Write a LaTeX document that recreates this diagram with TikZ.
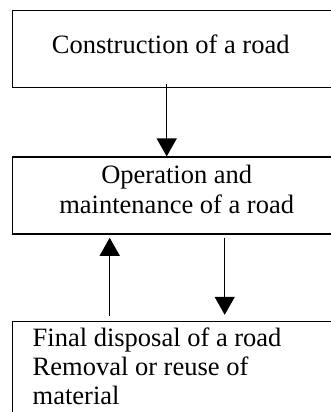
\documentclass[tikz,border=0pt]{standalone}
\usepackage{fontspec}
\setmainfont{Liberation Serif}
\usetikzlibrary{arrows.meta,positioning}

\begin{document}
\begin{tikzpicture}[x=1pt, y=1pt,
  stage/.style={rectangle, draw, line width=1.4pt, minimum width=328pt, inner xsep=0pt,
    font=\fontsize{26.5}{30}\selectfont},
  flow/.style={-{Triangle[width=20pt,length=18pt]}, line width=1.4pt}]
  \useasboundingbox (0,0) rectangle (330,-412);

  \node[stage, anchor=north west, minimum height=77pt, text depth=10pt] (CR) at (12,-10) {Construction of a road\kern12pt};
  \node[stage, below=68pt of CR, minimum height=77pt, align=center, inner ysep=3pt, text depth=12pt] (OM) {Operation and\\maintenance of a road};
  \node[stage, below=86pt of OM, text width=288pt, inner xsep=20pt, inner ysep=6pt, align=flush left,
    font=\fontsize{26.5}{29}\selectfont, text depth=100pt] (FD) {Final disposal of a road\\Removal or reuse of\\material};

  \draw[flow] ([xshift=-10pt, yshift=4pt]CR.south) -- ([xshift=-10pt]OM.north);
  \draw[flow] ([xshift=-67pt, yshift=5pt]FD.north) -- ([xshift=-67pt, yshift=-3pt]OM.south);
  \draw[flow] ([xshift=48pt, yshift=-3pt]OM.south) -- ([xshift=48pt, yshift=6pt]FD.north);
\end{tikzpicture}
\end{document}
